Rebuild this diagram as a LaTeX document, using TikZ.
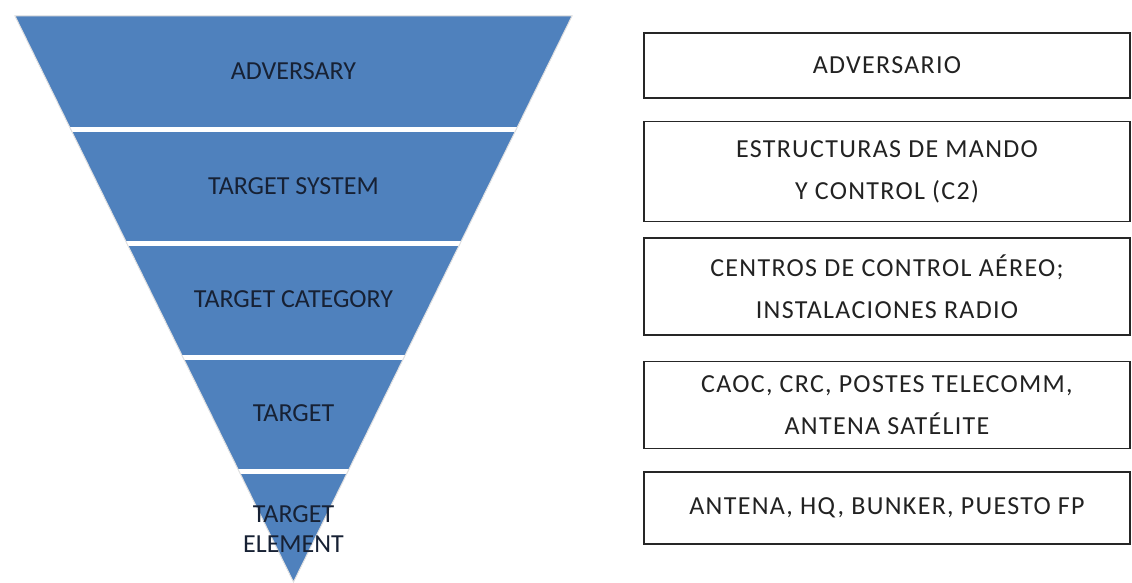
\documentclass[tikz,border=0pt]{standalone}
\usepackage{fontspec}
\setmainfont{Carlito}
\newfontfamily\boxfont[LetterSpace=5]{Carlito}
\usetikzlibrary{positioning}
\definecolor{pyrblue}{RGB}{79,129,189}
\definecolor{pyrtext}{RGB}{23,33,52}
\definecolor{boxtext}{RGB}{34,34,34}

\begin{document}
\begin{tikzpicture}[x=1pt,y=-1pt,
    lvl/.style={text=pyrtext,font=\fontsize{26}{30}\selectfont,align=center},
    box/.style={draw=black!85,line width=1.5pt,minimum width=486pt,inner sep=0pt,
      text=boxtext,font=\boxfont\fontsize{26}{42}\selectfont,align=center}]
  \useasboundingbox (0,0) rectangle (1132,583);
  % inverted pyramid
  \coordinate (tl) at (15,16);
  \coordinate (tr) at (572,16);
  \coordinate (ap) at (293.5,582);
  \fill[pyrblue] (tl) -- (tr) -- (ap) -- cycle;
  \begin{scope}
    \clip (tl) -- (tr) -- (ap) -- cycle;
    \foreach \y in {129.5,243,357.5,471}
      \draw[white,line width=5pt] (0,\y) -- (600,\y);
  \end{scope}
  \draw[black!12,line width=1pt] (tl) -- (tr) -- (ap) -- cycle;
  \node[lvl] (adv) at (293.5,71.5) {ADVERSARY};
  \node[lvl] (sys) at (293.5,186) {TARGET SYSTEM};
  \node[lvl] (cat) at (293.5,299) {TARGET CATEGORY};
  \node[lvl] (tgt) at (293.5,413) {TARGET};
  \node[lvl] (elm) at (293.5,529) {TARGET\\ELEMENT};
  % spanish boxes
  \node[box,minimum height=65pt] (b1) at (887,65.5) {ADVERSARIO};
  \node[box,minimum height=100pt,below=22pt of b1] (b2) {ESTRUCTURAS DE MANDO\\Y CONTROL (C2)};
  \node[box,minimum height=97pt,below=15pt of b2] (b3) {CENTROS DE CONTROL AÉREO;\\INSTALACIONES RADIO};
  \node[box,minimum height=87pt,below=25pt of b3] (b4) {CAOC, CRC, POSTES TELECOMM,\\ANTENA SATÉLITE};
  \node[box,minimum height=72pt,below=22pt of b4] (b5) {ANTENA, HQ, BUNKER, PUESTO FP};
\end{tikzpicture}
\end{document}
